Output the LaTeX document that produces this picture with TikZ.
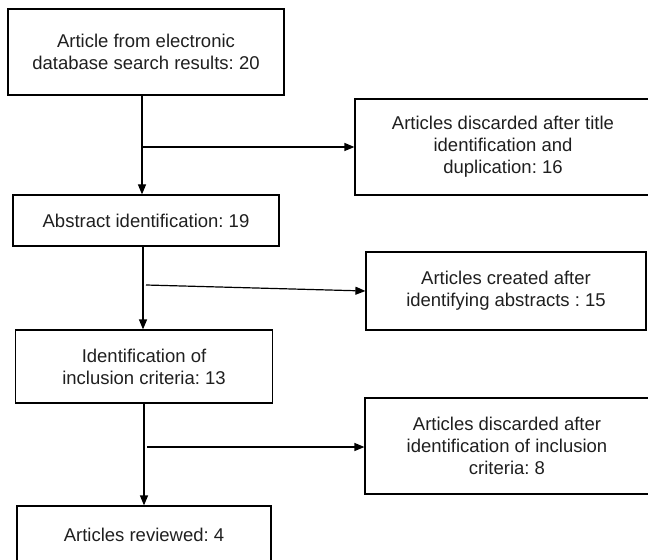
\documentclass[tikz,border=0pt]{standalone}
\usepackage{fontspec}
\setmainfont{Liberation Sans}
\frenchspacing
\usetikzlibrary{arrows.meta}
\tikzset{
  flowbox/.style = {draw=black, line width=1.2bp, align=center, inner sep=0pt,
    text=black!88, font=\fontsize{18.5bp}{22bp}\selectfont},
  arr/.style = {draw=black, line width=1.2bp, -{Triangle[length=10bp,width=8bp]}},
}
\begin{document}
\begin{tikzpicture}[x=1bp, y=-1bp]
  \clip (0,0) rectangle (648,560);
  \node [flowbox, minimum width=276bp, minimum height=86bp] (search) at (146,52)
    {Article from electronic\\database search results: 20};
  \node [flowbox, minimum width=296bp, minimum height=96bp] (title) at (503,147)
    {Articles discarded after title\\identification and\\duplication: 16};
  \node [flowbox, minimum width=266bp, minimum height=51bp] (abstr) at (146,220.5)
    {Abstract identification: 19};
  \node [flowbox, minimum width=280bp, minimum height=78bp] (created) at (506,291)
    {Articles created after\\identifying abstracts : 15};
  \node [flowbox, minimum width=257bp, minimum height=73bp] (incl) at (144,366.5)
    {Identification of\\inclusion criteria: 13};
  \node [flowbox, minimum width=284bp, minimum height=96bp] (discard) at (507,446)
    {Articles discarded after\\identification of inclusion\\criteria: 8};
  \node [flowbox, minimum width=254bp, minimum height=58bp] (review) at (144,535)
    {Articles reviewed: 4};

  \coordinate (j1) at (142,147);
  \coordinate (j2) at (146,285);
  \coordinate (j3) at (147,447);

  \draw [arr] (j1 |- search.south) -- (j1 |- abstr.north);
  \draw [arr] (j1) -- (j1 -| title.west);
  \draw [arr] (143,0 |- abstr.south) -- (143,0 |- incl.north);
  \draw [arr] (j2) -- (created.west);
  \draw [arr] (144,0 |- incl.south) -- (144,0 |- review.north);
  \draw [arr] (j3) -- (j3 -| discard.west);
\end{tikzpicture}
\end{document}
